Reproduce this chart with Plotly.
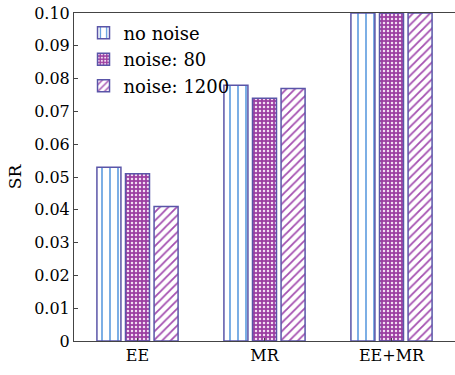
import plotly.graph_objects as go

categories = ["EE", "MR", "EE+MR"]
no_noise = [0.053, 0.078, 0.100]
noise_80 = [0.051, 0.074, 0.100]
noise_1200 = [0.041, 0.077, 0.100]
series_names = ["no noise", "noise: 80", "noise: 1200"]
yticks = [0, 0.01, 0.02, 0.03, 0.04, 0.05, 0.06, 0.07, 0.08, 0.09, 0.10]
yticklabels = ["0", "0.01", "0.02", "0.03", "0.04", "0.05", "0.06", "0.07", "0.08", "0.09", "0.10"]

FONT = "DejaVu Serif"
edge = "#5a55a8"
purple = "#9c3fa2"
blue = "#4a90dc"

fig = go.Figure()
fig.add_bar(
    x=categories, y=no_noise, name=series_names[0],
    marker=dict(color="white", line=dict(color=edge, width=1.5),
                pattern=dict(shape="|", fgcolor=blue, bgcolor="white", size=8, solidity=0.18, fillmode="replace")),
)
fig.add_bar(
    x=categories, y=noise_80, name=series_names[1],
    marker=dict(color=purple, line=dict(color=edge, width=1.5),
                pattern=dict(shape=".", fgcolor="#f3dff3", bgcolor=purple, size=4, solidity=0.3, fillmode="replace")),
)
fig.add_bar(
    x=categories, y=noise_1200, name=series_names[2],
    marker=dict(color="white", line=dict(color=edge, width=1.5),
                pattern=dict(shape="/", fgcolor="#a44fb0", bgcolor="white", size=6, solidity=0.3, fillmode="replace")),
)

fig.update_layout(
    width=455, height=375,
    margin=dict(l=74, r=0, t=13, b=34),
    paper_bgcolor="white", plot_bgcolor="white",
    barmode="group", bargap=0.325, bargroupgap=0.16,
    font=dict(family=FONT, size=16, color="#000"),
    showlegend=True,
    legend=dict(x=0.025, y=0.995, xanchor="left", yanchor="top",
                bgcolor="rgba(0,0,0,0)", font=dict(family=FONT, size=18, color="#000"),
                tracegroupgap=0, itemwidth=30),
    xaxis=dict(showline=True, linecolor="#444", linewidth=1, mirror=True,
               ticks="inside", ticklen=3, tickcolor="#444",
               tickfont=dict(family=FONT, size=16, color="#000"), showgrid=False),
    yaxis=dict(range=[0, 0.1], showline=True, linecolor="#444", linewidth=1, mirror=True,
               ticks="inside", ticklen=4, tickcolor="#444",
               tickvals=yticks, ticktext=yticklabels,
               tickfont=dict(family=FONT, size=16, color="#000"), showgrid=False, zeroline=False,
               title=dict(text="SR", font=dict(family=FONT, size=17, color="#000"), standoff=8)),
)

fig.write_html("out.html")
